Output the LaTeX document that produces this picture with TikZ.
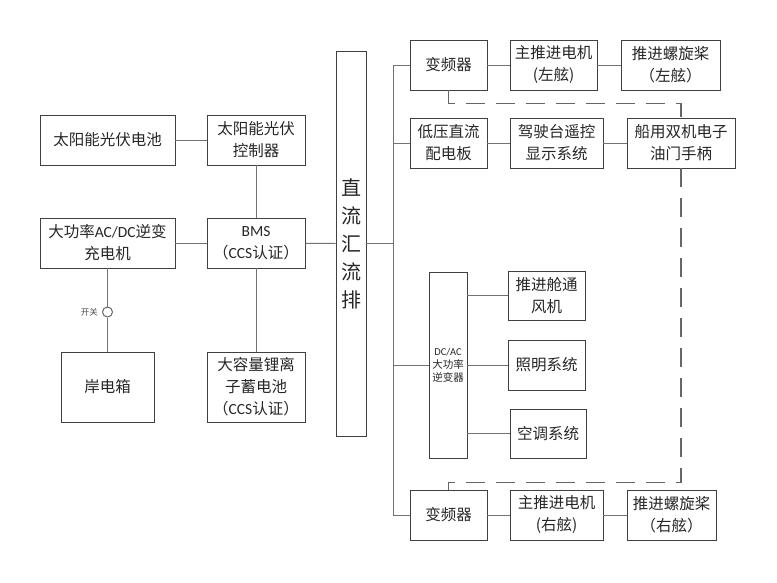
\documentclass[tikz,border=0pt]{standalone}
\usepackage{fontspec}
\setmainfont{Noto Sans CJK SC}
\newfontfamily\lat{Carlito}
\usetikzlibrary{positioning}
\tikzset{
	box/.style={draw=black!75, line width=0.9pt, align=center, inner sep=0pt, text=black!85, font=\fontsize{15.5}{22}\selectfont},
	wire/.style={draw=black!55, line width=1pt},
	ctrl/.style={draw=black!60, line width=1.2pt, dash pattern=on 19pt off 11pt},
	swcircle/.style={circle, draw=black!60, line width=1pt, fill=white, minimum size=10pt, inner sep=0pt},
}
\begin{document}
\begin{tikzpicture}[x=1pt, y=-1pt]
		\useasboundingbox (0,0) rectangle (777,582);
		
		% DC busbar
		\node[box, minimum width=30pt, minimum height=385pt, font=\fontsize{20}{28}\selectfont] (busbar) at (351,243.5) {直\\流\\汇\\流\\排};
		
		% Solar and charging side
		\node[box, minimum width=135pt, minimum height=50pt] (pvcell) at (107.5,140) {太阳能光伏电池};
		\node[box, minimum width=98pt, minimum height=50pt] (pvctrl) at (256,140) {太阳能光伏\\控制器};
		\node[box, minimum width=135pt, minimum height=50pt] (charger) at (107.5,243) {大功率{\lat AC/DC}逆变\\充电机};
		\node[box, minimum width=98pt, minimum height=50pt] (bms) at (256,243) {{\lat BMS}\\（{\lat CCS}认证）};
		\node[box, minimum width=93pt, minimum height=70pt] (shore) at (107.5,387) {岸电箱};
		\node[box, minimum width=98pt, minimum height=70pt] (battery) at (256,387) {大容量锂离\\子蓄电池\\（{\lat CCS}认证）};
		
		% Shore switch
		\node[swcircle] (sw) at (107.5,312) {};
		\node[left=4pt of sw, inner sep=0pt, text=black!70, font=\fontsize{8.5}{10}\selectfont] (swlabel) {开关};
		
		\draw[wire] (pvcell) -- (pvctrl);
		\draw[wire] (pvctrl) -- (bms);
		\draw[wire] (charger) -- (bms);
		\draw[wire] (bms) -- (busbar);
		\draw[wire] (bms) -- (battery);
		\draw[wire] (charger) -- (sw);
		\draw[wire] (sw) -- (shore);
		
		% Port propulsion
		\node[box, minimum width=77pt, minimum height=50pt] (vfL) at (448.5,65) {变频器};
		\node[box, minimum width=87pt, minimum height=50pt] (motorL) at (553.5,65) {主推进电机\\(左舷)};
		\node[box, minimum width=99pt, minimum height=50pt] (propL) at (670.5,65) {推进螺旋桨\\（左舷）};
		
		% Low voltage and bridge control
		\node[box, minimum width=77pt, minimum height=50pt] (dcpanel) at (448.5,143) {低压直流\\配电板};
		\node[box, minimum width=93pt, minimum height=50pt] (bridge) at (556.5,143) {驾驶台遥控\\显示系统};
		\node[box, minimum width=108pt, minimum height=50pt] (throttle) at (681,143) {船用双机电子\\油门手柄};
		
		% Inverter and AC loads
		\node[box, minimum width=38pt, minimum height=186pt, font=\fontsize{10.5}{13}\selectfont] (inverter) at (448,365) {{\lat DC/AC}\\大功率\\逆变器};
		\node[box, minimum width=77pt, minimum height=49pt] (fan) at (546.5,295.5) {推进舱通\\风机};
		\node[box, minimum width=77pt, minimum height=50pt] (light) at (546.5,365) {照明系统};
		\node[box, minimum width=76pt, minimum height=49pt] (aircon) at (548,433.5) {空调系统};
		
		% Starboard propulsion
		\node[box, minimum width=77pt, minimum height=50pt] (vfR) at (448.5,515) {变频器};
		\node[box, minimum width=93pt, minimum height=50pt] (motorR) at (556.5,515) {主推进电机\\(右舷)};
		\node[box, minimum width=89pt, minimum height=50pt] (propR) at (671.5,515) {推进螺旋桨\\（右舷）};
		
		% Distribution line
		\coordinate (bustop) at (393,65);
		\coordinate (busbot) at (393,515);
		\draw[wire] (vfL) -- (bustop) -- (busbot) -- (vfR);
		\draw[wire] (busbar.east) -- (busbar.east -| bustop);
		\draw[wire] (dcpanel.west) -- (dcpanel.west -| bustop);
		\draw[wire] (inverter.west) -- (inverter.west -| bustop);
		
		\draw[wire] (vfL) -- (motorL);
		\draw[wire] (motorL) -- (propL);
		\draw[wire] (dcpanel) -- (bridge);
		\draw[wire] (bridge) -- (throttle);
		\draw[wire] (vfR) -- (motorR);
		\draw[wire] (motorR) -- (propR);
		
		\draw[wire] (fan.west -| inverter.east) -- (fan.west);
		\draw[wire] (inverter) -- (light);
		\draw[wire] (aircon.west -| inverter.east) -- (aircon.west);
		
		% Throttle control (dashed)
		\draw[ctrl] (vfL.south) -- ++(0,13) -| (throttle.north);
		\draw[ctrl] (throttle.south) -- ++(0,314) -| (vfR.north);
	\end{tikzpicture}
\end{document}
